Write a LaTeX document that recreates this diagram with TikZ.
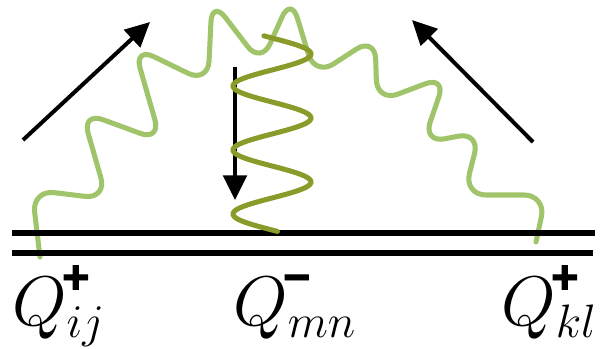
\RequirePackage{fix-cm}
\documentclass[tikz,border=0pt]{standalone}
\usepackage{amsmath}
\usepackage{fontspec}
\newfontfamily\signfont[BoldFeatures={FakeBold=2}]{Liberation Sans}
\usetikzlibrary{arrows.meta}
\definecolor{gluon}{RGB}{160,196,106}
\definecolor{phonon}{RGB}{138,155,42}
\DeclareMathSizes{60}{60}{40}{30}
\newcommand{\chg}[1]{\hbox{\kern-4pt\raisebox{5.5pt}{\signfont\bfseries\fontsize{40}{40}\selectfont #1}}}
\newcommand{\charge}[2]{$Q^{\chg{#1}}_{\raisebox{4pt}[0pt][0pt]{$\scriptstyle #2$}}$}

\begin{document}
\begin{tikzpicture}[x=0.03cm,y=-0.03cm,>={Triangle[length=21pt,width=20pt]},
  wave/.style={gluon,line width=4.3pt,rounded corners=0.66cm,line cap=round},
  coil/.style={phonon,line width=4.3pt,line cap=round},
  bar/.style={line width=5.5pt},
  mom/.style={->,line width=3.4pt},
  lbl/.style={anchor=base west,inner sep=0pt,font=\fontsize{60}{70}\selectfont}]
\useasboundingbox (0,0) rectangle (601,349);
% ends of the lines and of the wave
\coordinate (t1) at (12,233);\coordinate (t2) at (595,233);
\coordinate (b1) at (12,253);\coordinate (b2) at (593,253);
\coordinate (wl) at (40,257);\coordinate (wr) at (536,242);
% wavy line from Q_ij to Q_kl
\draw[wave] (wl) -- (32,190) -- (107,199) -- (82,112) -- (161,141) -- (134,47) -- (208,83)
  -- (212,0) -- (261,64) -- (291,-3) -- (315,76) -- (375,37) -- (377,102) -- (446,76)
  -- (423,143) -- (480,132) -- (464,195) -- (546,195) -- (wr);
\draw[bar] (t1) -- (t2);
\draw[bar] (b1) -- (b2);
% momentum arrows
\coordinate (p1) at (23,140);\coordinate (p2) at (150,22);
\coordinate (k1) at (533,142);\coordinate (k2) at (412,20);
\coordinate (m1) at (235,67);\coordinate (m2) at (235,200);
\draw[mom] (p1) -- (p2);
\draw[mom] (k1) -- (k2);
\draw[mom] (m1) -- (m2);
% coil down to Q_mn
\draw[coil] plot[domain=-12:1088,samples=220,smooth,variable=\t] ({272+39*sin(\t)},{38+0.17778*\t});
\node[lbl] (qij) at (12,325) {\charge{+}{ij}};
\node[lbl] (qmn) at (233,325) {\charge{−}{mn}};
\node[lbl] (qkl) at (501,325) {\charge{+}{kl}};
\end{tikzpicture}
\end{document}
